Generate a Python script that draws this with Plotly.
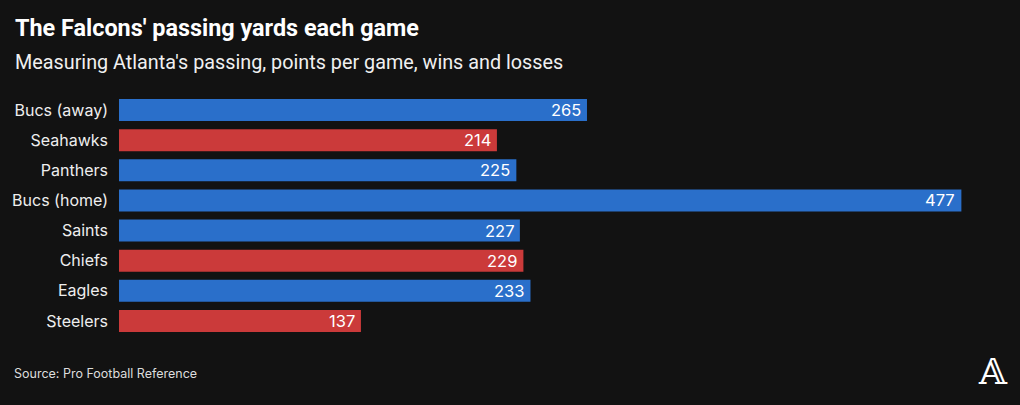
import plotly.graph_objects as go

games = ["Bucs (away)", "Seahawks", "Panthers", "Bucs (home)", "Saints", "Chiefs", "Eagles", "Steelers"]
yards = [265, 214, 225, 477, 227, 229, 233, 137]
results = ["W", "L", "W", "W", "W", "L", "W", "L"]

BLUE = "#2a6fca"
RED = "#cb3a3a"
BG = "#121212"
colors = [BLUE if r == "W" else RED for r in results]

W, H = 1020, 405
ML, MR, MT, MB = 119, 15, 95, 69

fig = go.Figure(go.Bar(
    x=yards, y=games, orientation="h",
    marker=dict(color=colors, line=dict(width=0)),
    hoverinfo="skip",
))

# value labels inside bar ends
for g, v in zip(games, yards):
    fig.add_annotation(x=v, y=g, xref="x", yref="y", text=str(v), showarrow=False,
                       xanchor="right", yanchor="middle", xshift=-4,
                       font=dict(family="Inter, Roboto, sans-serif", size=16.5, color="white"))

fig.update_layout(
    width=W, height=H,
    paper_bgcolor=BG, plot_bgcolor=BG,
    margin=dict(l=ML, r=MR, t=MT, b=MB),
    bargap=0.27,
    showlegend=False,
    xaxis=dict(range=[0, 501.7], visible=False, fixedrange=True),
    yaxis=dict(autorange="reversed", showgrid=False, zeroline=False, showline=False,
               ticks="", ticklabelstandoff=10, fixedrange=True,
               tickfont=dict(family="Inter, Roboto, sans-serif", size=16, color="#eeeeee")),
    font=dict(family="Inter, Roboto, sans-serif", color="white"),
)

pw = W - ML - MR
ph = H - MT - MB
def px(x): return (x - ML) / pw
def py(y): return (H - MB - y) / ph

fig.add_annotation(x=px(13), y=py(28), xref="paper", yref="paper", showarrow=False,
                   xanchor="left", yanchor="middle",
                   text="<b>The Falcons' passing yards each game</b>",
                   font=dict(family="Roboto, sans-serif", size=23.4, color="white"))
fig.add_annotation(x=px(13), y=py(62), xref="paper", yref="paper", showarrow=False,
                   xanchor="left", yanchor="middle",
                   text="Measuring Atlanta's passing, points per game, wins and losses",
                   font=dict(family="Roboto, sans-serif", size=19.8, color="#f0f0f0"))
fig.add_annotation(x=px(12), y=py(373), xref="paper", yref="paper", showarrow=False,
                   xanchor="left", yanchor="middle",
                   text="Source: Pro Football Reference",
                   font=dict(family="Inter, Roboto, sans-serif", size=12.5, color="#dddddd"))
fig.add_annotation(x=px(993), y=py(371), xref="paper", yref="paper", showarrow=False,
                   xanchor="center", yanchor="middle",
                   text="𝔸",
                   font=dict(family="DejaVu Serif, DejaVu Sans, serif", size=36, color="white"))

fig.write_html("out.html", config={"displayModeBar": False},
               post_script="document.body.style.margin='0';document.body.style.background='#121212';")
